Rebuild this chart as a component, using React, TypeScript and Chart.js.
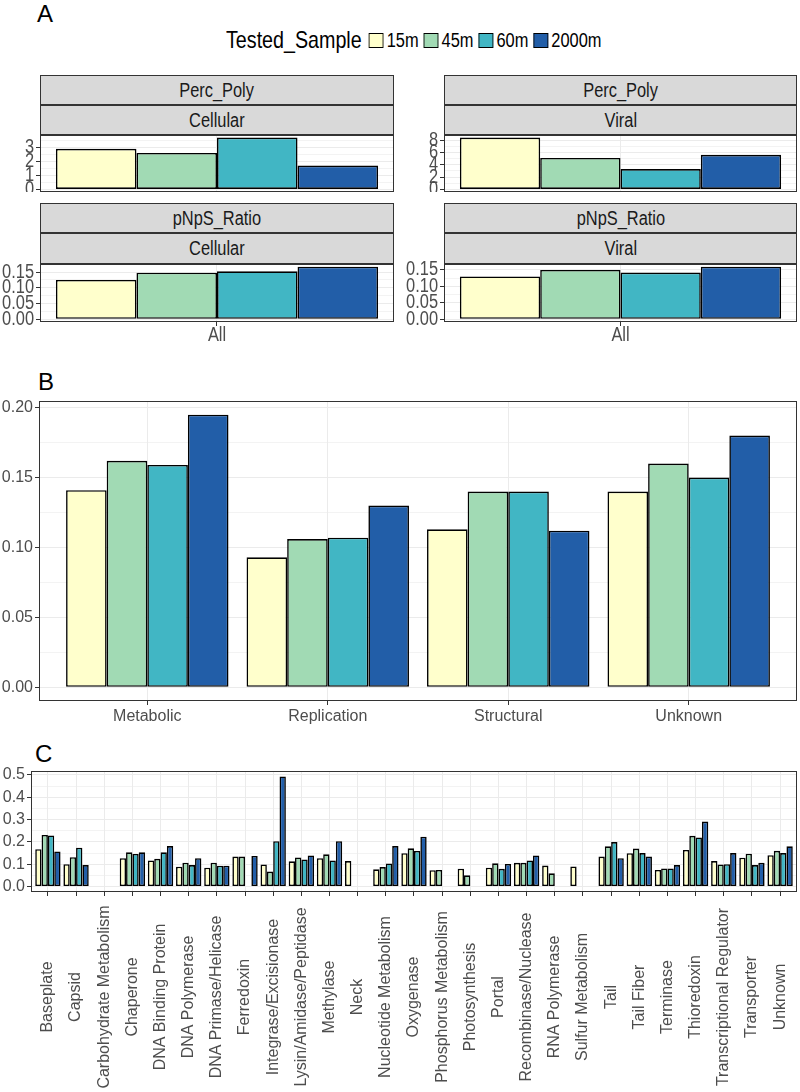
import React, { useEffect, useRef } from 'react';
import { Chart, registerables } from 'chart.js';

Chart.register(...registerables);

// ---------- shared ----------
const SAMPLES = ['15m', '45m', '60m', '2000m'];
const SAMPLE_COLORS = ['#FFFFCC', '#A1DAB4', '#41B6C4', '#225EA8'];

// ---------- panel A ----------
const metricLabels = ['Perc_Poly', 'pNpS_Ratio'];
const typeLabels = ['Cellular', 'Viral'];
const allCategory = ['All'];
const cellularPercPoly = [2.9, 2.6, 3.7, 1.7];
const viralPercPoly = [8.4, 5.1, 3.3, 5.6];
const cellularPnps = [0.125, 0.148, 0.152, 0.167];
const viralPnps = [0.13, 0.15, 0.142, 0.16];
const percPolyCellTicks = [0, 1, 2, 3];
const percPolyViralTicks = [0, 2, 4, 6, 8];
const pnpsTicks = [0, 0.05, 0.1, 0.15];

// ---------- panel B ----------
const functionCategories = ['Metabolic', 'Replication', 'Structural', 'Unknown'];
const fn15m = [0.141, 0.093, 0.113, 0.14];
const fn45m = [0.162, 0.106, 0.14, 0.16];
const fn60m = [0.159, 0.107, 0.14, 0.15];
const fn2000m = [0.195, 0.13, 0.112, 0.18];
const panelBTicks = [0, 0.05, 0.1, 0.15, 0.2];

// ---------- panel C ----------
const geneCategories = [
  'Baseplate', 'Capsid', 'Carbohydrate Metabolism', 'Chaperone', 'DNA Binding Protein',
  'DNA Polymerase', 'DNA Primase/Helicase', 'Ferredoxin', 'Integrase/Excisionase',
  'Lysin/Amidase/Peptidase', 'Methylase', 'Neck', 'Nucleotide Metabolism', 'Oxygenase',
  'Phosphorus Metabolism', 'Photosynthesis', 'Portal', 'Recombinase/Nuclease',
  'RNA Polymerase', 'Sulfur Metabolism', 'Tail', 'Tail Fiber', 'Terminase', 'Thioredoxin',
  'Transcriptional Regulator', 'Transporter', 'Unknown',
];
const gene15m = [0.167, 0.1, null, 0.127, 0.117, 0.089, 0.084, 0.134, 0.099, 0.113, 0.127, 0.114, 0.077, 0.149, 0.073, 0.08, 0.084, 0.106, 0.094, 0.09, 0.134, 0.149, 0.074, 0.164, 0.114, 0.129, 0.14];
const gene45m = [0.231, 0.131, null, 0.153, 0.124, 0.107, 0.107, 0.134, 0.067, 0.13, 0.144, null, 0.087, 0.171, 0.074, 0.05, 0.104, 0.106, 0.059, null, 0.18, 0.17, 0.081, 0.227, 0.099, 0.147, 0.16];
const gene60m = [0.229, 0.174, null, 0.146, 0.153, 0.096, 0.093, null, 0.203, 0.121, 0.117, null, 0.103, 0.159, null, null, 0.079, 0.117, null, null, 0.199, 0.15, 0.081, 0.22, 0.1, 0.096, 0.15];
const gene2000m = [0.157, 0.096, null, 0.153, 0.181, 0.127, 0.093, 0.137, 0.493, 0.139, 0.203, null, 0.181, 0.223, null, null, 0.101, 0.139, null, null, 0.127, 0.134, 0.096, 0.291, 0.15, 0.106, 0.18];
const panelCTicks = [0, 0.1, 0.2, 0.3, 0.4, 0.5];

// ---------- fonts / colours ----------
const SANS = "'Liberation Sans', Arial, sans-serif";
const NARROW_FACTOR = 0.82;
const AXIS_TEXT = '#4D4D4D';
const GRID = '#EBEBEB';
const DARK = '#333333';

const borderPlugin = {
  id: 'panelBorder',
  afterDatasetsDraw(chart: any) {
    const { ctx, chartArea: a } = chart;
    ctx.save();
    ctx.strokeStyle = DARK;
    ctx.lineWidth = 1;
    ctx.strokeRect(a.left + 0.5, a.top + 0.5, a.width - 1, a.height - 1);
    ctx.restore();
  },
};

// draws the chart's text horizontally condensed (narrow sans look)
function makeCondensePlugin(factor: number) {
  return {
    id: 'condenseText',
    beforeDraw(chart: any) {
      const ctx = chart.ctx;
      const orig = CanvasRenderingContext2D.prototype.fillText;
      ctx.fillText = function (text: string, x: number, y: number) {
        this.save();
        this.translate(x, y);
        this.scale(factor, 1);
        orig.call(this, text, 0, 0);
        this.restore();
      };
    },
    afterDraw(chart: any) {
      delete chart.ctx.fillText;
    },
  };
}

// vertical x labels centred on a common line (ggplot angle = 90, hjust = 0.5)
function makeCenteredLabelPlugin(centerY: number) {
  return {
    id: 'centeredVerticalLabels',
    beforeDraw(chart: any) {
      const items = chart.scales.x.getLabelItems();
      for (const it of items) {
        it.options.textAlign = 'center';
        it.options.translation = [it.options.translation[0], centerY];
      }
    },
  };
}

type PanelProps = {
  left: number; top: number; plotW: number; plotH: number;
  yAxisW: number; xAxisH: number; padTop: number; padRight: number;
  categories: string[]; series: (number | null)[][];
  majors: number[]; fmt: (v: number) => string; catPct: number;
  ySize: number; xSize: number; showX: boolean; rotate: boolean; condensed?: boolean; xPad?: number;
  labelCenterY?: number;
};

function BarPanel(p: PanelProps) {
  const ref = useRef<HTMLCanvasElement>(null);
  const w = p.yAxisW + p.plotW + p.padRight;
  const h = p.padTop + p.plotH + p.xAxisH;
  useEffect(() => {
    if (!ref.current) return;
    const vals = p.series.flat().filter((v) => v != null) as number[];
    const dmax = Math.max(...vals);
    const yMin = -0.05 * dmax;
    const yMax = 1.05 * dmax;
    const n = p.categories.length;
    const step = p.majors[1] - p.majors[0];
    const minors = p.majors.map((m) => m + step / 2).filter((v) => v < yMax);
    const key = (v: number) => (Math.round(v * 1e6) / 1e6).toFixed(6);
    const majorKeys = new Set(p.majors.map(key));
    const isMajor = (v: any) => typeof v === 'number' && majorKeys.has(key(v));
    const plugins: any[] = [borderPlugin];
    if (p.condensed) plugins.push(makeCondensePlugin(NARROW_FACTOR));
    if (p.labelCenterY != null) plugins.push(makeCenteredLabelPlugin(p.labelCenterY - (p.top - p.padTop)));
    const chart = new Chart(ref.current, {
      type: 'bar',
      data: {
        datasets: p.series.map((s, si) => ({
          label: SAMPLES[si],
          data: s.map((v, i) => ({ x: i + 1, y: v })),
          backgroundColor: SAMPLE_COLORS[si],
          borderColor: '#000000',
          borderWidth: 1.6,
          borderSkipped: false,
          categoryPercentage: p.catPct,
          barPercentage: 1,
        })) as any,
      },
      options: {
        animation: false,
        responsive: false,
        events: [],
        layout: { padding: { left: 0, top: p.padTop, right: p.padRight, bottom: 0 } },
        plugins: { legend: { display: false }, tooltip: { enabled: false } },
        scales: {
          x: {
            type: 'linear',
            min: 0.4,
            max: n + 0.6,
            offset: false,
            border: { display: false },
            grid: { offset: false, color: GRID, lineWidth: 1, drawTicks: p.showX, tickLength: 4, tickColor: DARK },
            afterBuildTicks: (s: any) => { s.ticks = p.categories.map((_, i) => ({ value: i + 1 })); },
            afterFit: (s: any) => { s.height = p.xAxisH; s.paddingLeft = 0; s.paddingRight = 0; },
            ticks: {
              display: p.showX,
              autoSkip: false,
              maxRotation: p.rotate ? 90 : 0,
              minRotation: p.rotate ? 90 : 0,
              padding: p.xPad ?? 2,
              color: AXIS_TEXT,
              font: { family: SANS, size: p.xSize },
              callback: (v: any) => p.categories[Math.round(v) - 1] ?? '',
            },
          },
          y: {
            type: 'linear',
            min: yMin,
            max: yMax,
            border: { display: false },
            grid: {
              color: GRID,
              lineWidth: (c: any) => (isMajor(c.tick?.value) ? 1 : 0.6),
              tickLength: 4,
              tickColor: (c: any) => (isMajor(c.tick?.value) ? DARK : 'rgba(0,0,0,0)'),
            },
            afterBuildTicks: (s: any) => {
              s.ticks = [...p.majors, ...minors].sort((a, b) => a - b).map((v) => ({ value: v }));
            },
            afterFit: (s: any) => { s.width = p.yAxisW; s.paddingTop = 0; s.paddingBottom = 0; },
            ticks: {
              autoSkip: false,
              padding: 2,
              color: AXIS_TEXT,
              font: { family: SANS, size: p.ySize },
              callback: (v: any) => (isMajor(v) ? p.fmt(v) : ''),
            },
          },
        },
      } as any,
      plugins,
    });
    return () => chart.destroy();
  }, []);
  return (
    <canvas
      ref={ref}
      width={w}
      height={h}
      style={{ position: 'absolute', left: p.left - p.yAxisW, top: p.top - p.padTop, width: w, height: h }}
    />
  );
}

function Strip({ left, top, width, height, text }: { left: number; top: number; width: number; height: number; text: string }) {
  return (
    <div
      style={{
        position: 'absolute', left, top, width, height, boxSizing: 'border-box',
        background: '#D9D9D9', border: `1px solid ${DARK}`, color: '#1A1A1A',
        fontFamily: SANS, fontSize: 20, lineHeight: `${height - 2}px`, textAlign: 'center',
      }}
    >
      <span style={{ display: 'inline-block', transform: `scaleX(${NARROW_FACTOR})` }}>{text}</span>
    </div>
  );
}

function PanelLabel({ left, top, text }: { left: number; top: number; text: string }) {
  return (
    <div style={{ position: 'absolute', left, top, fontFamily: SANS, fontSize: 24, lineHeight: '24px', color: '#000' }}>
      {text}
    </div>
  );
}

const fmt2 = (v: number) => v.toFixed(2);
const fmt1 = (v: number) => v.toFixed(1);
const fmt0 = (v: number) => v.toFixed(0);

export default function App() {
  const colLeft = [40, 444];
  const colW = [354, 353];
  const topRow = { s1: 75, s2: 105, plot: 135, h: 57 };
  const botRow = { s1: 203, s2: 233, plot: 264, h: 58 };
  const percSeries = [cellularPercPoly, viralPercPoly];
  const percTicks = [percPolyCellTicks, percPolyViralTicks];
  const pnpsSeries = [cellularPnps, viralPnps];
  const f = NARROW_FACTOR;
  return (
    <div style={{ position: 'absolute', left: 0, top: 0, width: 800, height: 1092, background: '#fff', overflow: 'hidden' }}>
      <PanelLabel left={37} top={2} text="A" />
      <PanelLabel left={38} top={370} text="B" />
      <PanelLabel left={35} top={742} text="C" />

      {/* legend (horizontally condensed as a whole) */}
      <div
        style={{
          position: 'absolute', left: 226, top: 26, height: 28, display: 'flex', alignItems: 'center',
          fontFamily: SANS, fontSize: 20, color: '#000', transform: `scaleX(${f})`, transformOrigin: '0 50%',
          whiteSpace: 'nowrap',
        }}
      >
        <span style={{ fontSize: 24, marginRight: 7 / f }}>Tested_Sample</span>
        {SAMPLES.map((s, i) => (
          <span key={s} style={{ display: 'flex', alignItems: 'center', marginRight: 5 / f }}>
            <span
              style={{
                display: 'inline-block', boxSizing: 'border-box', width: 15 / f, height: 15,
                background: SAMPLE_COLORS[i], border: '1px solid #000', marginRight: 3 / f,
              }}
            />
            <span>{s}</span>
          </span>
        ))}
      </div>

      {[0, 1].map((c) => (
        <React.Fragment key={c}>
          <Strip left={colLeft[c]} top={topRow.s1} width={colW[c]} height={topRow.s2 - topRow.s1} text={metricLabels[0]} />
          <Strip left={colLeft[c]} top={topRow.s2} width={colW[c]} height={topRow.plot - topRow.s2} text={typeLabels[c]} />
          <BarPanel
            left={colLeft[c]} top={topRow.plot} plotW={colW[c]} plotH={topRow.h}
            yAxisW={40} xAxisH={0} padTop={6} padRight={3}
            categories={allCategory} series={percSeries[c].map((v) => [v])}
            majors={percTicks[c]} fmt={fmt0} catPct={0.91}
            ySize={20} xSize={20} showX={false} rotate={false} condensed
          />
          <Strip left={colLeft[c]} top={botRow.s1} width={colW[c]} height={botRow.s2 - botRow.s1} text={metricLabels[1]} />
          <Strip left={colLeft[c]} top={botRow.s2} width={colW[c]} height={botRow.plot - botRow.s2} text={typeLabels[c]} />
          <BarPanel
            left={colLeft[c]} top={botRow.plot} plotW={colW[c]} plotH={botRow.h}
            yAxisW={40} xAxisH={26} padTop={6} padRight={3}
            categories={allCategory} series={pnpsSeries[c].map((v) => [v])}
            majors={pnpsTicks} fmt={fmt2} catPct={0.91}
            ySize={20} xSize={20} showX={true} rotate={false} condensed xPad={-3}
          />
        </React.Fragment>
      ))}

      <BarPanel
        left={39} top={401} plotW={758} plotH={300}
        yAxisW={39} xAxisH={30} padTop={6} padRight={3}
        categories={functionCategories} series={[fn15m, fn45m, fn60m, fn2000m]}
        majors={panelBTicks} fmt={fmt2} catPct={0.9}
        ySize={16} xSize={16} showX={true} rotate={false}
      />

      <BarPanel
        left={31} top={771} plotW={766} plotH={121}
        yAxisW={31} xAxisH={200} padTop={6} padRight={3}
        categories={geneCategories} series={[gene15m, gene45m, gene60m, gene2000m]}
        majors={panelCTicks} fmt={fmt1} catPct={0.9}
        ySize={16} xSize={16} showX={true} rotate={true} labelCenterY={997}
      />
    </div>
  );
}
